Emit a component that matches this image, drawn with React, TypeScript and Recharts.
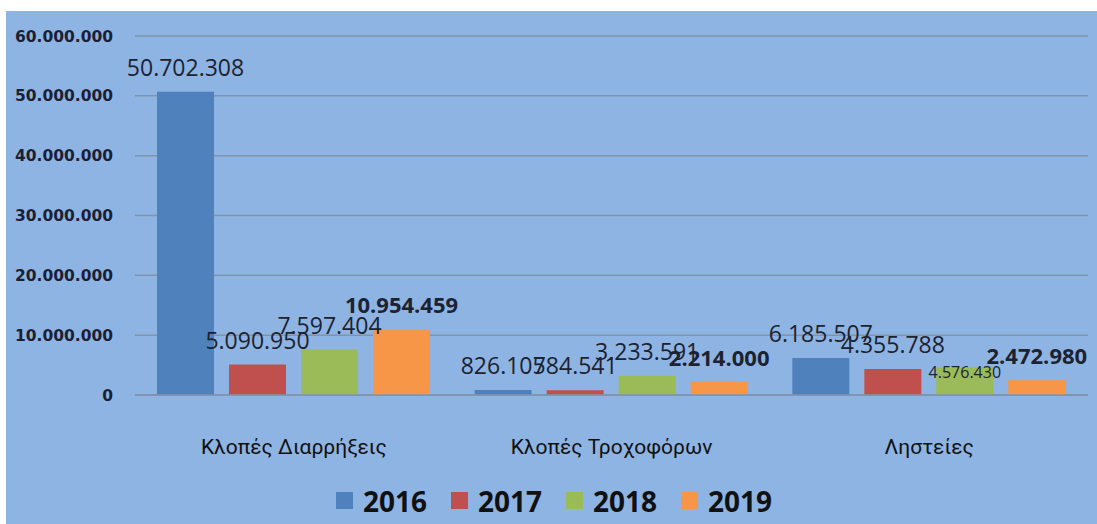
import React from 'react';
import { BarChart, Bar, XAxis, YAxis, CartesianGrid, Legend, LabelList } from 'recharts';

const categories = ['Κλοπές Διαρρήξεις', 'Κλοπές Τροχοφόρων', 'Ληστείες'];
const years = ['2016', '2017', '2018', '2019'];
const values2016 = [50702308, 826105, 6185507];
const values2017 = [5090950, 784541, 4355788];
const values2018 = [7597404, 3233591, 4576430];
const values2019 = [10954459, 2214000, 2472980];
const yTicks = [0, 10000000, 20000000, 30000000, 40000000, 50000000, 60000000];

const colors = ['#4f81bd', '#c0504d', '#9bbb59', '#f79646'];

const data = categories.map((name, i) => ({
  name,
  '2016': values2016[i],
  '2017': values2017[i],
  '2018': values2018[i],
  '2019': values2019[i],
}));

const fmt = (v: number) => String(v).replace(/\B(?=(\d{3})+(?!\d))/g, '.');

const makeLabel = (series: number) => (props: any) => {
  const { x, y, width, value, index } = props;
  const bold = series === 3;
  // the 2018 robbery label is smaller and sits low in the original
  const small = series === 2 && index === 2;
  return (
    <text
      x={x + width / 2}
      y={small ? y + 10 : y - 16}
      textAnchor="middle"
      fontFamily="'Open Sans', sans-serif"
      fontSize={small ? 16 : bold ? 22 : 23}
      fontWeight={bold ? 700 : 400}
      fill="#1c2230"
    >
      {fmt(value)}
    </text>
  );
};

const renderLegend = () => (
  <div
    style={{
      display: 'flex',
      justifyContent: 'center',
      alignItems: 'center',
      height: 35,
      paddingLeft: 14,
      fontFamily: "'Open Sans', sans-serif",
      fontWeight: 700,
      fontSize: 28,
      color: '#111',
    }}
  >
    {years.map((y, i) => (
      <div key={y} style={{ display: 'flex', alignItems: 'center', marginLeft: i ? 24 : 0 }}>
        <span style={{ width: 17, height: 17, background: colors[i], marginRight: 10 }} />
        <span>{y}</span>
      </div>
    ))}
  </div>
);

export default function App() {
  return (
    <div style={{ position: 'absolute', left: 0, top: 0, width: 1097, height: 524, background: '#fff' }}>
      <div style={{ position: 'absolute', left: 6, top: 11, width: 1091, height: 513, background: '#8eb4e3' }}>
        <BarChart
          width={1091}
          height={513}
          data={data}
          margin={{ top: 25, right: 9, bottom: 6, left: 0 }}
          barSize={57}
          barGap={15}
        >
          <CartesianGrid vertical={false} stroke="#8093ab" strokeWidth={1.5} />
          <XAxis
            dataKey="name"
            height={88}
            tickLine={false}
            axisLine={{ stroke: '#8093ab', strokeWidth: 1.5 }}
            tick={{ fill: '#111', fontSize: 21, fontFamily: "Roboto, sans-serif", dy: 36 }}
          />
          <YAxis
            width={129}
            domain={[0, 60000000]}
            ticks={yTicks}
            tickFormatter={fmt}
            tickLine={false}
            axisLine={false}
            tickSize={0}
            tickMargin={22}
            tick={{ fill: '#1c1f33', fontSize: 15.5, fontWeight: 700, fontFamily: "'DejaVu Sans', sans-serif" }}
          />
          <Legend verticalAlign="bottom" content={renderLegend} />
          {years.map((y, i) => (
            <Bar key={y} dataKey={y} fill={colors[i]} isAnimationActive={false}>
              <LabelList dataKey={y} content={makeLabel(i)} />
            </Bar>
          ))}
        </BarChart>
      </div>
    </div>
  );
}
